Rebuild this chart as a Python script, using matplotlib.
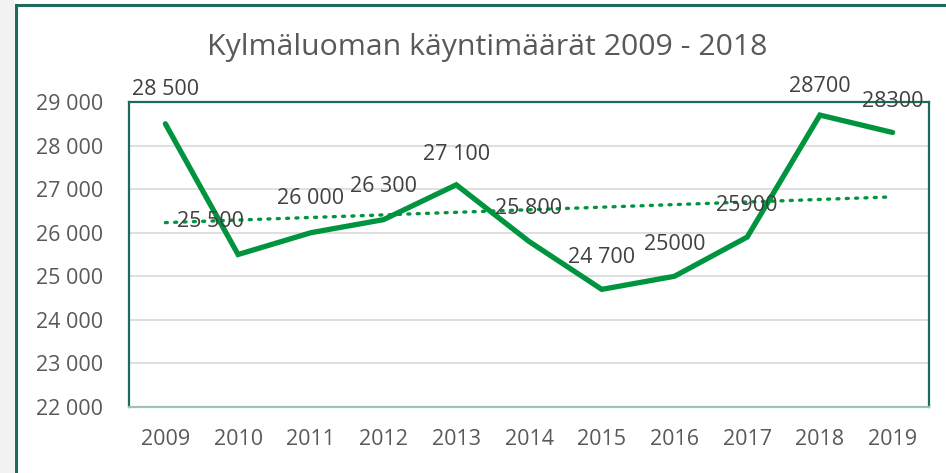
import numpy as np
import matplotlib
matplotlib.use("Agg")
import matplotlib.pyplot as plt
from matplotlib.patches import Rectangle
from matplotlib.lines import Line2D

years = ["2009", "2010", "2011", "2012", "2013", "2014", "2015", "2016", "2017", "2018", "2019"]
visits = [28500, 25500, 26000, 26300, 27100, 25800, 24700, 25000, 25900, 28700, 28300]
point_labels = ["28 500", "25 500", "26 000", "26 300", "27 100", "25 800", "24 700", "25000", "25900", "28700", "28300"]
label_dx = [0, -28, 0, 0, 0, 0, 0, 0, 0, 0, 0]
label_dy = [34, 33, 34, 33, 30, 33, 32, 32, 32, 29, 31]
yticks = [22000, 23000, 24000, 25000, 26000, 27000, 28000, 29000]
ytick_labels = ["22 000", "23 000", "24 000", "25 000", "26 000", "27 000", "28 000", "29 000"]
title = "Kylmäluoman käyntimäärät 2009 - 2018"

plt.rcParams['font.family'] = ['Open Sans', 'DejaVu Sans']
W, H = 946, 473
fig = plt.figure(figsize=(W / 100, H / 100), dpi=100)
fig.patch.set_facecolor("white")

teal = "#1d6b5c"
green = "#00943f"
gray_text = "#595959"

# light gray strip at left and outer border
fig.add_artist(Rectangle((0, 0), 14 / W, 1, transform=fig.transFigure, facecolor="#f2f2f2", edgecolor="none", zorder=0))
fig.add_artist(Line2D([15.5 / W, 15.5 / W], [0, 1 - 5 / H], transform=fig.transFigure, color=teal, lw=2.2))
fig.add_artist(Line2D([15.5 / W, 1], [1 - 5.5 / H, 1 - 5.5 / H], transform=fig.transFigure, color=teal, lw=2.2))

left, right, top, bottom = 129, 929, 102, 407
ax = fig.add_axes([left / W, 1 - bottom / H, (right - left) / W, (bottom - top) / H])
x = np.arange(len(years))

ax.set_xlim(-0.5, len(years) - 0.5)
ax.set_ylim(22000, 29000)
ax.set_yticks(yticks)
ax.set_yticklabels(ytick_labels)
ax.set_xticks(x)
ax.set_xticklabels(years)
ax.tick_params(axis="both", length=0, labelsize=15.5, colors=gray_text)
ax.tick_params(axis="y", pad=18.5)
ax.tick_params(axis="x", pad=16)
ax.grid(axis="y", color="#d9d9d9", lw=1.2)
ax.set_axisbelow(True)
for s in ["left", "top", "right"]:
    ax.spines[s].set_color(teal)
    ax.spines[s].set_linewidth(1.6)
ax.spines["bottom"].set_color("#9cc3bb")
ax.spines["bottom"].set_linewidth(1.6)

coef = np.polyfit(x, visits, 1)
trend = np.polyval(coef, x)
ax.plot(x, trend, color=green, lw=2.4, linestyle=(0, (0.6, 2.2)), dash_capstyle="round", zorder=2)
ax.plot(x, visits, color=green, lw=3.8, solid_joinstyle="miter", solid_capstyle="round", zorder=3)

for xi, v, lab, dx, dy in zip(x, visits, point_labels, label_dx, label_dy):
    ax.annotate(lab, (xi, v), xytext=(dx, dy), textcoords="offset pixels",
                ha="center", va="center", fontsize=15.5, color="#404040", zorder=4,
                annotation_clip=False)

fig.text((207 + 768) / 2 / W, 1 - 47 / H, title, ha="center", va="center", fontsize=21.8, color=gray_text)

fig.savefig("out.png", dpi=100)
